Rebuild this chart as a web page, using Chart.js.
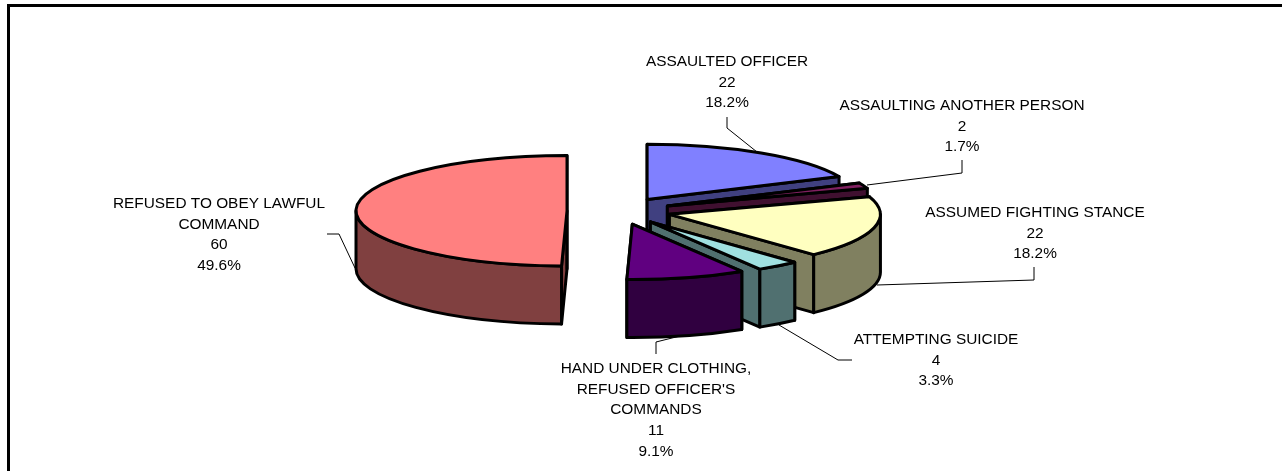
<!DOCTYPE html>
<html>
<head>
<meta charset="utf-8">
<script src="https://cdn.jsdelivr.net/npm/chart.js@4"></script>
<style>
html, body { margin: 0; padding: 0; background: #ffffff; }
#wrap { position: absolute; left: 0; top: 0; width: 1282px; height: 471px; }
</style>
</head>
<body>
<div id="wrap"><canvas id="useOfForce" width="1282" height="471"></canvas></div>
<script>
// chart data
const categories = [
    ["ASSAULTED OFFICER"],
    ["ASSAULTING ANOTHER PERSON"],
    ["ASSUMED FIGHTING STANCE"],
    ["ATTEMPTING SUICIDE"],
    ["HAND UNDER CLOTHING,", "REFUSED OFFICER'S", "COMMANDS"],
    ["REFUSED TO OBEY LAWFUL", "COMMAND"]
];
const counts = [22, 2, 22, 4, 11, 60];
const topColors = ["#8080FF", "#802060", "#FFFFC0", "#A0E0E0", "#600080", "#FF8080"];
const sideColors = ["#404080", "#401030", "#808060", "#507070", "#300040", "#804040"];

// look of the fake 3D pie
const TILT = 0.262;
const DEPTH = 58;
const EXPLODE = 52;
const OUTLINE = 3;
const LABEL_FONT = '15.4px "Liberation Sans", Arial, sans-serif';
const LINE_HEIGHT = 20.7;

// label centre + first baseline, and the leader line for each slice
const labelLayout = [
    { x: 727, y: 66, leader: [[727, 117], [727, 128], [757, 152]] },
    { x: 962, y: 110, leader: [[962, 160], [962, 173], [867, 185]] },
    { x: 1035, y: 217, leader: [[1034, 267], [1034, 280], [877, 285]] },
    { x: 936, y: 344, leader: [[852, 360], [838, 360], [779, 325]] },
    { x: 656, y: 373, leader: [[656, 354], [656, 342], [680, 336]] },
    { x: 219, y: 208, leader: [[327, 234], [339, 234], [355, 268]] }
];

function total() {
    return counts.reduce((a, b) => a + b, 0);
}

// draws one slice from the arc element that the doughnut controller worked out
function drawSlice(ctx, arc, index) {
    const rx = arc.outerRadius;
    const ry = rx * TILT;
    const mid = (arc.startAngle + arc.endAngle) / 2;
    const cx = arc.x + Math.cos(mid) * EXPLODE;
    const cy = arc.y + Math.sin(mid) * EXPLODE * TILT;
    const rim = a => [cx + rx * Math.cos(a), cy + ry * Math.sin(a)];

    ctx.lineWidth = OUTLINE;
    ctx.lineJoin = "round";
    ctx.strokeStyle = "#000000";

    // cut faces first, they sit behind the outer wall
    ctx.fillStyle = sideColors[index];
    [arc.startAngle, arc.endAngle].forEach(a => {
        const p = rim(a);
        ctx.beginPath();
        ctx.moveTo(cx, cy);
        ctx.lineTo(p[0], p[1]);
        ctx.lineTo(p[0], p[1] + DEPTH);
        ctx.lineTo(cx, cy + DEPTH);
        ctx.closePath();
        ctx.fill();
        ctx.stroke();
    });

    // outer wall, only the part on the front half of the ellipse
    const from = Math.max(arc.startAngle, 0);
    const to = Math.min(arc.endAngle, Math.PI);
    if (to > from) {
        const a = rim(from);
        ctx.beginPath();
        ctx.moveTo(a[0], a[1]);
        ctx.ellipse(cx, cy, rx, ry, 0, from, to);
        ctx.ellipse(cx, cy + DEPTH, rx, ry, 0, to, from, true);
        ctx.closePath();
        ctx.fill();
        ctx.stroke();
    }

    // top
    ctx.fillStyle = topColors[index];
    ctx.beginPath();
    ctx.moveTo(cx, cy);
    ctx.ellipse(cx, cy, rx, ry, 0, arc.startAngle, arc.endAngle);
    ctx.closePath();
    ctx.fill();
    ctx.stroke();
}

const pie3d = {
    id: "pie3d",
    beforeDraw(chart) {
        const ctx = chart.ctx;
        ctx.save();
        ctx.fillStyle = "#ffffff";
        ctx.fillRect(0, 0, chart.width, chart.height);
        // only the top and left edge of the frame are inside the picture
        ctx.fillStyle = "#000000";
        ctx.fillRect(7, 4, chart.width - 7, 3);
        ctx.fillRect(7, 4, 3, chart.height - 4);
        ctx.restore();
    },
    beforeDatasetDraw(chart) {
        const ctx = chart.ctx;
        const arcs = chart.getDatasetMeta(0).data;

        // leader lines go under the slices
        ctx.save();
        ctx.strokeStyle = "#000000";
        ctx.lineWidth = 1;
        labelLayout.forEach(l => {
            ctx.beginPath();
            l.leader.forEach((p, i) => i ? ctx.lineTo(p[0], p[1]) : ctx.moveTo(p[0], p[1]));
            ctx.stroke();
        });

        // back to front: the big red one stands alone, the rest in data order
        arcs.forEach((arc, i) => drawSlice(ctx, arc, i));

        // labels
        ctx.fillStyle = "#000000";
        ctx.font = LABEL_FONT;
        ctx.textAlign = "center";
        ctx.textBaseline = "alphabetic";
        categories.forEach((lines, i) => {
            const pct = (counts[i] / total() * 100).toFixed(1) + "%";
            lines.concat([String(counts[i]), pct]).forEach((t, n) => {
                ctx.fillText(t, labelLayout[i].x, labelLayout[i].y + n * LINE_HEIGHT);
            });
        });
        ctx.restore();
        return false; // skip the flat arcs
    }
};

new Chart(document.getElementById("useOfForce").getContext("2d"), {
    type: "pie",
    data: {
        labels: categories.map(c => c.join(" ")),
        datasets: [{ data: counts, backgroundColor: topColors, radius: 211 }]
    },
    options: {
        responsive: false,
        animation: false,
        layout: { padding: { left: 0, right: 44, top: 0, bottom: 49 } },
        plugins: {
            legend: { display: false },
            tooltip: { enabled: false }
        }
    },
    plugins: [pie3d]
});
</script>
</body>
</html>
